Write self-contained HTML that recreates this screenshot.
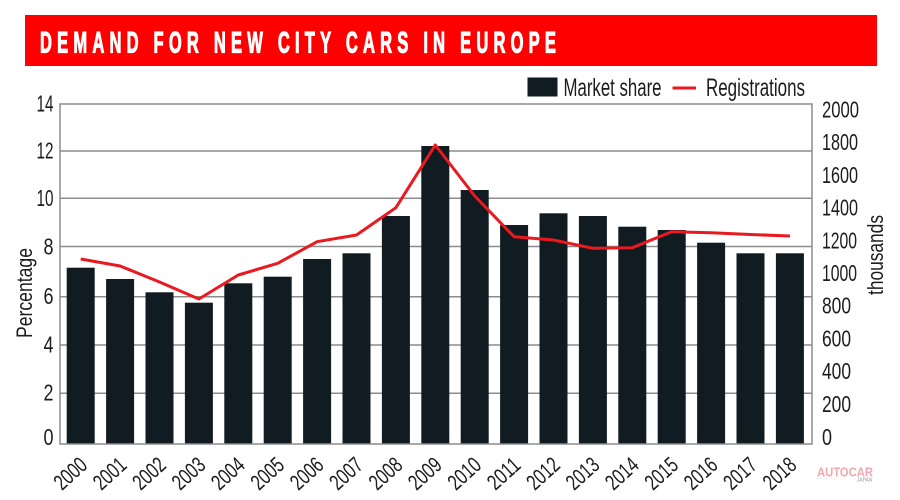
<!DOCTYPE html>
<html>
<head>
<meta charset="utf-8">
<style>
  html, body { margin: 0; padding: 0; background: #ffffff; }
  svg { display: block; }
  text { font-family: "Liberation Sans Narrow", "Liberation Sans", sans-serif; fill: #1c1c1e; }
</style>
</head>
<body>
<svg width="900" height="500" viewBox="0 0 900 500" xmlns="http://www.w3.org/2000/svg">
  <rect x="0" y="0" width="900" height="500" fill="#ffffff"/>

  <!-- Title bar -->
  <rect x="25" y="15" width="852" height="51" fill="#fe0000"/>
  <text transform="translate(40,52.5) scale(0.55,1)" font-size="30" font-weight="bold" style="fill:#ffffff;stroke:#ffffff;stroke-width:1.2" textLength="938" lengthAdjust="spacing">DEMAND FOR NEW CITY CARS IN EUROPE</text>

  <!-- Legend -->
  <rect x="527.5" y="77.5" width="30" height="19" fill="#111b22"/>
  <text x="563.5" y="96" font-size="25" textLength="98" lengthAdjust="spacingAndGlyphs">Market share</text>
  <line x1="672.5" y1="88" x2="696" y2="88" stroke="#e8191f" stroke-width="3"/>
  <text x="706" y="96" font-size="25" textLength="99" lengthAdjust="spacingAndGlyphs">Registrations</text>

  <!-- Gridlines -->
  <g stroke="#8c8c8c" stroke-width="1.5">
    <line x1="60" y1="151" x2="812" y2="151"/>
    <line x1="60" y1="198.3" x2="812" y2="198.3"/>
    <line x1="60" y1="246.5" x2="812" y2="246.5"/>
    <line x1="60" y1="296.7" x2="812" y2="296.7"/>
    <line x1="60" y1="345" x2="812" y2="345"/>
    <line x1="60" y1="393.3" x2="812" y2="393.3"/>
  </g>

  <!-- Bars -->
  <g fill="#111b22">
    <rect x="66.7" y="267.7" width="28" height="176.3"/>
    <rect x="106.1" y="279" width="28" height="165"/>
    <rect x="145.5" y="292.3" width="28" height="151.7"/>
    <rect x="184.9" y="302.7" width="28" height="141.3"/>
    <rect x="224.3" y="283.3" width="28" height="160.7"/>
    <rect x="263.7" y="276.7" width="28" height="167.3"/>
    <rect x="303.1" y="259" width="28" height="185"/>
    <rect x="342.5" y="253.3" width="28" height="190.7"/>
    <rect x="381.9" y="216" width="28" height="228"/>
    <rect x="421.3" y="146" width="28" height="298"/>
    <rect x="460.7" y="190" width="28" height="254"/>
    <rect x="500.1" y="225" width="28" height="219"/>
    <rect x="539.5" y="213.3" width="28" height="230.7"/>
    <rect x="578.9" y="216" width="28" height="228"/>
    <rect x="618.3" y="226.7" width="28" height="217.3"/>
    <rect x="657.7" y="230" width="28" height="214"/>
    <rect x="697.1" y="242.7" width="28" height="201.3"/>
    <rect x="736.5" y="253.3" width="28" height="190.7"/>
    <rect x="775.9" y="253.3" width="28" height="190.7"/>
  </g>

  <!-- Plot frame -->
  <rect x="60" y="104" width="752" height="340" fill="none" stroke="#8c8c8c" stroke-width="1.5"/>

  <!-- Registrations line -->
  <polyline fill="none" stroke="#e8191f" stroke-width="3" stroke-linejoin="round" stroke-linecap="butt"
    points="80.7,259 120.1,266 159.5,282 198.9,299 238.3,275 277.7,263.3 317.1,241.7 356.5,235 395.9,207.7 435.3,145 474.7,196 514.1,236.7 553.5,240 592.9,248.3 632.3,247.7 671.7,231.7 711.1,232.7 750.5,234.5 789.9,236"/>

  <!-- Left axis labels -->
  <g font-size="23" text-anchor="end">
    <text x="53.5" y="111.7" textLength="17" lengthAdjust="spacingAndGlyphs">14</text>
    <text x="53.5" y="158.5" textLength="17" lengthAdjust="spacingAndGlyphs">12</text>
    <text x="53.5" y="205.8" textLength="17" lengthAdjust="spacingAndGlyphs">10</text>
    <text x="53.5" y="254.5" textLength="10" lengthAdjust="spacingAndGlyphs">8</text>
    <text x="53.5" y="304.2" textLength="10" lengthAdjust="spacingAndGlyphs">6</text>
    <text x="53.5" y="352.3" textLength="10" lengthAdjust="spacingAndGlyphs">4</text>
    <text x="53.5" y="400.6" textLength="10" lengthAdjust="spacingAndGlyphs">2</text>
    <text x="53.5" y="445" textLength="10" lengthAdjust="spacingAndGlyphs">0</text>
  </g>

  <!-- Right axis labels -->
  <g font-size="23">
    <text x="822" y="117.5" textLength="37" lengthAdjust="spacingAndGlyphs">2000</text>
    <text x="822" y="150.2" textLength="36" lengthAdjust="spacingAndGlyphs">1800</text>
    <text x="822" y="182.9" textLength="36" lengthAdjust="spacingAndGlyphs">1600</text>
    <text x="822" y="215.6" textLength="36" lengthAdjust="spacingAndGlyphs">1400</text>
    <text x="822" y="248.3" textLength="35" lengthAdjust="spacingAndGlyphs">1200</text>
    <text x="822" y="281" textLength="35" lengthAdjust="spacingAndGlyphs">1000</text>
    <text x="822" y="313.7" textLength="29" lengthAdjust="spacingAndGlyphs">800</text>
    <text x="822" y="346.4" textLength="29" lengthAdjust="spacingAndGlyphs">600</text>
    <text x="822" y="379.1" textLength="29" lengthAdjust="spacingAndGlyphs">400</text>
    <text x="822" y="411.8" textLength="29" lengthAdjust="spacingAndGlyphs">200</text>
    <text x="822" y="445" textLength="10" lengthAdjust="spacingAndGlyphs">0</text>
  </g>

  <!-- Axis titles -->
  <text transform="translate(32,293) rotate(-90)" font-size="22" text-anchor="middle" textLength="90" lengthAdjust="spacingAndGlyphs">Percentage</text>
  <text transform="translate(883,255) rotate(-90)" font-size="22" text-anchor="middle" textLength="80" lengthAdjust="spacingAndGlyphs">thousands</text>

  <!-- X axis labels -->
  <g font-size="22" text-anchor="end">
    <text transform="translate(88.7,467) rotate(-42)" textLength="36" lengthAdjust="spacingAndGlyphs">2000</text>
    <text transform="translate(128.1,467) rotate(-42)" textLength="36" lengthAdjust="spacingAndGlyphs">2001</text>
    <text transform="translate(167.5,467) rotate(-42)" textLength="36" lengthAdjust="spacingAndGlyphs">2002</text>
    <text transform="translate(206.9,467) rotate(-42)" textLength="36" lengthAdjust="spacingAndGlyphs">2003</text>
    <text transform="translate(246.3,467) rotate(-42)" textLength="36" lengthAdjust="spacingAndGlyphs">2004</text>
    <text transform="translate(285.7,467) rotate(-42)" textLength="36" lengthAdjust="spacingAndGlyphs">2005</text>
    <text transform="translate(325.1,467) rotate(-42)" textLength="36" lengthAdjust="spacingAndGlyphs">2006</text>
    <text transform="translate(364.5,467) rotate(-42)" textLength="36" lengthAdjust="spacingAndGlyphs">2007</text>
    <text transform="translate(403.9,467) rotate(-42)" textLength="36" lengthAdjust="spacingAndGlyphs">2008</text>
    <text transform="translate(443.3,467) rotate(-42)" textLength="36" lengthAdjust="spacingAndGlyphs">2009</text>
    <text transform="translate(482.7,467) rotate(-42)" textLength="36" lengthAdjust="spacingAndGlyphs">2010</text>
    <text transform="translate(522.1,467) rotate(-42)" textLength="36" lengthAdjust="spacingAndGlyphs">2011</text>
    <text transform="translate(561.5,467) rotate(-42)" textLength="36" lengthAdjust="spacingAndGlyphs">2012</text>
    <text transform="translate(600.9,467) rotate(-42)" textLength="36" lengthAdjust="spacingAndGlyphs">2013</text>
    <text transform="translate(640.3,467) rotate(-42)" textLength="36" lengthAdjust="spacingAndGlyphs">2014</text>
    <text transform="translate(679.7,467) rotate(-42)" textLength="36" lengthAdjust="spacingAndGlyphs">2015</text>
    <text transform="translate(719.1,467) rotate(-42)" textLength="36" lengthAdjust="spacingAndGlyphs">2016</text>
    <text transform="translate(758.5,467) rotate(-42)" textLength="36" lengthAdjust="spacingAndGlyphs">2017</text>
    <text transform="translate(797.9,467) rotate(-42)" textLength="36" lengthAdjust="spacingAndGlyphs">2018</text>
  </g>

  <!-- Watermark -->
  <text x="817" y="476.5" font-family="Liberation Sans, sans-serif" font-size="12.5" font-weight="bold" style="fill:#f4a6ae" textLength="56" lengthAdjust="spacingAndGlyphs">AUTOCAR</text>
  <text x="872.5" y="481.5" font-family="Liberation Sans, sans-serif" font-size="5" text-anchor="end" style="fill:#9a9a9a">JAPAN</text>
  <text x="816" y="479.5" font-family="Liberation Sans, sans-serif" font-size="3" style="fill:#dddddd">www.autocar.jp</text>
</svg>
</body>
</html>
